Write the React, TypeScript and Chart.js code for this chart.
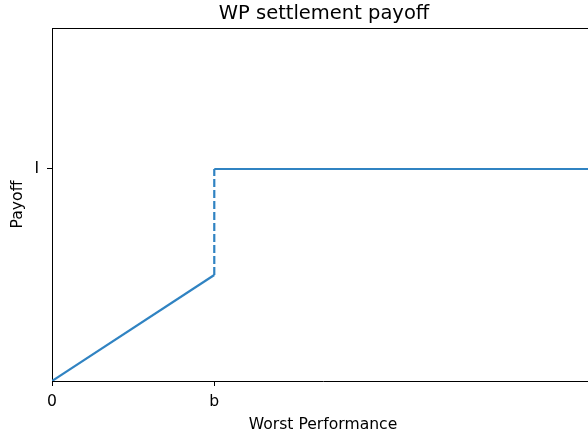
import React, { useEffect, useRef } from "react";
import { Chart, registerables } from "chart.js";

Chart.register(...registerables);

const xValues = [0, 1, 1, 3.34];
const yValues = [0, 0.5, 1, 1];
const xTickValues = [0, 1];
const xTickLabels = ["0", "b"];
const yTickValues = [1];
const yTickLabels = ["I"];
const titleText = "WP settlement payoff";
const xTitle = "Worst Performance";
const yTitle = "Payoff";

const FONT = "'DejaVu Sans', sans-serif";

export default function App() {
  const ref = useRef<HTMLCanvasElement | null>(null);
  useEffect(() => {
    if (!ref.current) return;
    const framePlugin = {
      id: "frame",
      afterDraw(chart: any) {
        const { ctx, chartArea } = chart;
        ctx.save();
        ctx.strokeStyle = "#000";
        ctx.lineWidth = 1;
        ctx.beginPath();
        ctx.moveTo(chartArea.left, chartArea.top + 0.5);
        ctx.lineTo(chartArea.right, chartArea.top + 0.5);
        ctx.moveTo(chartArea.right - 0.5, chartArea.top);
        ctx.lineTo(chartArea.right - 0.5, chartArea.bottom);
        ctx.stroke();
        ctx.fillStyle = "#000";
        ctx.font = `19.5px ${FONT}`;
        ctx.textAlign = "center";
        ctx.textBaseline = "alphabetic";
        ctx.fillText(titleText, (chartArea.left + chartArea.right) / 2 + 1, 19);
        ctx.restore();
      },
    };
    const chart = new Chart(ref.current, {
      type: "scatter",
      data: {
        datasets: [
          {
            data: xValues.map((x, i) => ({ x, y: yValues[i] })),
            showLine: true,
            borderColor: "#3083c2",
            borderWidth: 2.2,
            pointRadius: 0,
            fill: false,
            segment: {
              borderDash: (c: any) => (c.p0DataIndex === 1 ? [8, 3] : undefined),
            },
          },
        ],
      },
      options: {
        animation: false,
        responsive: false,
        maintainAspectRatio: false,
        layout: { padding: { top: 28, right: 6, left: 0, bottom: 0 } },
        plugins: {
          legend: { display: false },
          tooltip: { enabled: false },
          title: { display: false },
        },
        scales: {
          x: {
            type: "linear",
            min: 0,
            max: 3.34,
            afterFit: (s: any) => {
              s.height = 55;
            },
            afterBuildTicks: (s: any) => {
              s.ticks = xTickValues.map((v) => ({ value: v }));
            },
            ticks: {
              color: "#000",
              font: { family: FONT, size: 15.6 },
              padding: 7,
              maxRotation: 0,
              callback: (v: any) => {
                const i = xTickValues.indexOf(Number(v));
                return i >= 0 ? xTickLabels[i] : "";
              },
            },
            grid: {
              drawOnChartArea: false,
              drawTicks: true,
              tickLength: 5,
              color: "#000",
            },
            border: { display: true, color: "#000", width: 1 },
            title: {
              display: true,
              text: xTitle,
              color: "#000",
              font: { family: FONT, size: 15.6 },
              padding: { top: 2, bottom: 2 },
            },
          },
          y: {
            type: "linear",
            min: 0,
            max: 1.665,
            afterFit: (s: any) => {
              s.width = 52;
            },
            afterBuildTicks: (s: any) => {
              s.ticks = yTickValues.map((v) => ({ value: v }));
            },
            ticks: {
              color: "#000",
              font: { family: FONT, size: 15.6 },
              padding: 8,
              callback: (v: any) => {
                const i = yTickValues.indexOf(Number(v));
                return i >= 0 ? yTickLabels[i] : "";
              },
            },
            grid: {
              drawOnChartArea: false,
              drawTicks: true,
              tickLength: 5,
              color: "#000",
            },
            border: { display: true, color: "#000", width: 1 },
            title: {
              display: true,
              text: yTitle,
              color: "#000",
              font: { family: FONT, size: 15.6 },
              padding: { top: 9, bottom: 0 },
            },
          },
        },
      },
      plugins: [framePlugin],
    });
    return () => chart.destroy();
  }, []);
  return (
    <div
      style={{
        position: "fixed",
        left: 0,
        top: 0,
        width: 588,
        height: 436,
        overflow: "hidden",
        background: "#fff",
      }}
    >
      <canvas ref={ref} width={600} height={436} style={{ display: "block" }} />
    </div>
  );
}
